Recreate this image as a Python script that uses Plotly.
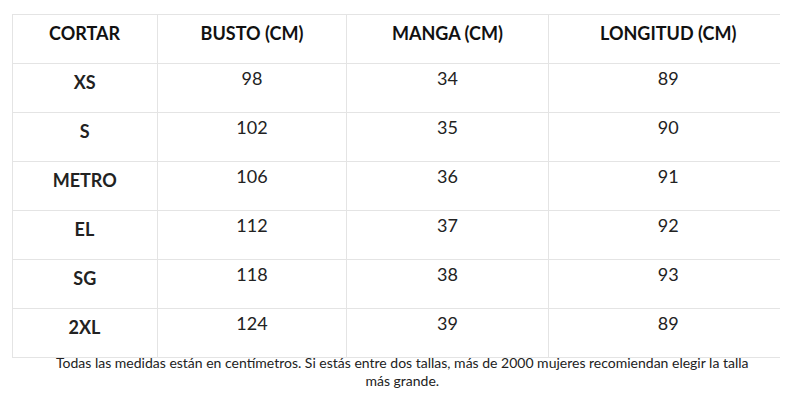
import plotly.graph_objects as go

headers = ["CORTAR", "BUSTO (CM)", "MANGA (CM)", "LONGITUD (CM)"]
sizes = ["XS", "S", "METRO", "EL", "SG", "2XL"]
busto = [98, 102, 106, 112, 118, 124]
manga = [34, 35, 36, 37, 38, 39]
longitud = [89, 90, 91, 92, 93, 89]
note = ("Todas las medidas están en centímetros. Si estás entre dos tallas, más de 2000 mujeres recomiendan elegir la talla"
        "<br>más grande.")

W, H = 788, 404
line = "#e4e4e4"

fig = go.Figure(go.Table(
    domain=dict(x=[4 / W, 780 / W], y=[0, 1 - 6 / H]),
    columnwidth=[144, 187, 200, 237],
    header=dict(
        values=["<b>%s</b>" % h for h in headers],
        align="center", height=49,
        fill_color="white", line_color=line,
        font=dict(family="Lato", size=18, color="#111"),
    ),
    cells=dict(
        values=[["<b>%s</b>" % s for s in sizes], busto, manga, longitud],
        align="center", height=49,
        fill_color="white", line_color=line,
        font=dict(family="Lato", size=18, color="#222"),
    ),
))

fig.add_annotation(
    text=note, x=0.5, y=1 - 383 / H, xref="paper", yref="paper",
    showarrow=False, align="center",
    font=dict(family="Lato", size=14, color="#222"),
)

fig.update_layout(width=W, height=H, margin=dict(l=0, r=0, t=0, b=0),
                  paper_bgcolor="white", plot_bgcolor="white")
fig.write_html("out.html")
